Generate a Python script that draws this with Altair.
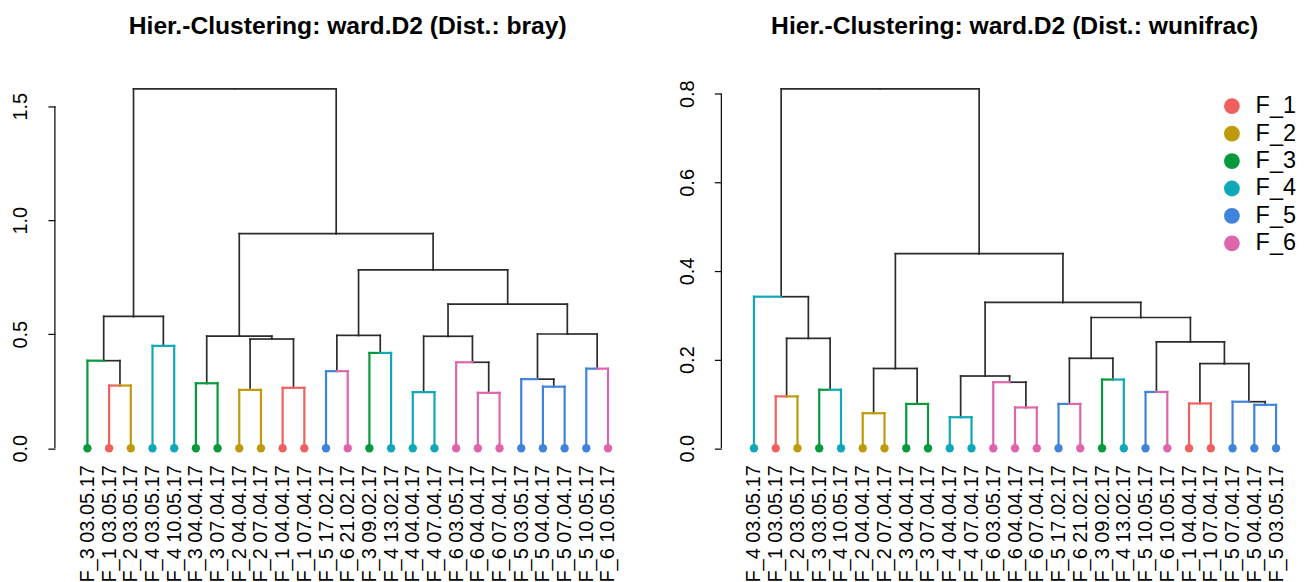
import altair as alt
import pandas as pd

FONT = "Liberation Sans"

groups = ["F_1", "F_2", "F_3", "F_4", "F_5", "F_6"]
group_colors = ["#F0605E", "#BF9A0C", "#079A3C", "#0EA8B8", "#3F84DA", "#DE64AC"]

# ---- panel 1: bray ----
bray_title = "Hier.-Clustering: ward.D2 (Dist.: bray)"
bray_labels = [
    "F_3 03.05.17", "F_1 03.05.17", "F_2 03.05.17", "F_4 03.05.17", "F_4 10.05.17",
    "F_3 04.04.17", "F_3 07.04.17", "F_2 04.04.17", "F_2 07.04.17", "F_1 04.04.17",
    "F_1 07.04.17", "F_5 17.02.17", "F_6 21.02.17", "F_3 09.02.17", "F_4 13.02.17",
    "F_4 04.04.17", "F_4 07.04.17", "F_6 03.05.17", "F_6 04.04.17", "F_6 07.04.17",
    "F_5 03.05.17", "F_5 04.04.17", "F_5 07.04.17", "F_5 10.05.17", "F_6 10.05.17",
]
# merges: negative = leaf (display position), positive = earlier merge step
bray_merge_a = [-2, -1, -4, 2, -6, -8, -10, 6, 5, -12, -14, 10, -16, -19, -18, 13, -22, -21, -24, 18, 16, 12, 9, 4]
bray_merge_b = [-3, 1, -5, 3, -7, -9, -11, 7, 8, -13, -15, 11, -17, -20, 14, 15, -23, 17, -25, 19, 20, 21, 22, 23]
bray_heights = [0.275, 0.384, 0.449, 0.578, 0.285, 0.256, 0.265, 0.479, 0.492, 0.338, 0.418, 0.495,
                0.246, 0.243, 0.377, 0.491, 0.270, 0.303, 0.349, 0.501, 0.632, 0.782, 0.941, 1.576]
bray_ticks = [0.0, 0.5, 1.0, 1.5]

# ---- panel 2: wunifrac ----
wuni_title = "Hier.-Clustering: ward.D2 (Dist.: wunifrac)"
wuni_labels = [
    "F_4 03.05.17", "F_1 03.05.17", "F_2 03.05.17", "F_3 03.05.17", "F_4 10.05.17",
    "F_2 04.04.17", "F_2 07.04.17", "F_3 04.04.17", "F_3 07.04.17", "F_4 04.04.17",
    "F_4 07.04.17", "F_6 03.05.17", "F_6 04.04.17", "F_6 07.04.17", "F_5 17.02.17",
    "F_6 21.02.17", "F_3 09.02.17", "F_4 13.02.17", "F_5 10.05.17", "F_6 10.05.17",
    "F_1 04.04.17", "F_1 07.04.17", "F_5 07.04.17", "F_5 04.04.17", "F_5 03.05.17",
]
wuni_merge_a = [-2, -4, 1, -1, -6, -8, 5, -10, -13, -12, 8, -15, -17, 12, -19, -21, -24, -23, 16, 15, 14, 11, 7, 4]
wuni_merge_b = [-3, -5, 2, 3, -7, -9, 6, -11, -14, 9, 10, -16, -18, 13, -20, -22, -25, 17, 18, 19, 20, 21, 22, 23]
wuni_heights = [0.117, 0.132, 0.248, 0.342, 0.079, 0.100, 0.180, 0.070, 0.092, 0.149, 0.163, 0.100,
                0.155, 0.203, 0.127, 0.101, 0.098, 0.105, 0.191, 0.240, 0.295, 0.329, 0.439, 0.811]
wuni_ticks = [0.0, 0.2, 0.4, 0.6, 0.8]


def build(labels, ma, mb, heights):
    nodes = {}
    segs = []
    def coord(c):
        if c < 0:
            return float(-c), 0.0, labels[-c - 1].split(" ")[0]
        return nodes[c][0], nodes[c][1], None
    for k, (a, b) in enumerate(zip(ma, mb), start=1):
        h = heights[k - 1]
        ax, ah, ag = coord(a)
        bx, bh, bg = coord(b)
        nx = (ax + bx) / 2.0
        for cx, ch, cg in ((ax, ah, ag), (bx, bh, bg)):
            segs.append({"x": cx, "x2": cx, "y": ch, "y2": h, "group": cg})
            segs.append({"x": cx, "x2": nx, "y": h, "y2": h, "group": cg})
        nodes[k] = (nx, h)
    seg = pd.DataFrame(segs)
    leaves = pd.DataFrame({
        "x": [float(i + 1) for i in range(len(labels))],
        "y": [0.0] * len(labels),
        "group": [l.split(" ")[0] for l in labels],
        "label": labels,
    })
    return seg, leaves


color_scale = alt.Scale(domain=groups, range=group_colors)


def panel(title, labels, ma, mb, heights, ticks, xmax, width, show_legend, title_dx):
    seg, leaves = build(labels, ma, mb, heights)
    n = len(labels)
    H = max(heights)
    label_arr = "[" + ",".join("'" + l + "'" for l in labels) + "]"
    xaxis = alt.Axis(values=list(range(1, n + 1)), labelExpr=label_arr + "[datum.value - 1]",
                     labelAngle=270, labelAlign="right", labelBaseline="middle",
                     labelFont=FONT, labelFontSize=20, labelColor="black", labelPadding=2,
                     ticks=False, domain=False, grid=False, labelOverlap=False, labelFlush=False,
                     labelLimit=300, title=None)
    yaxis = alt.Axis(values=ticks, format=".1f", labelAngle=270, labelAlign="center",
                     labelBaseline="bottom", labelFont=FONT, labelFontSize=20, labelColor="black",
                     labelPadding=17, tickSize=7, tickColor="black", tickWidth=1.2,
                     domain=False, grid=False, title=None, labelFlush=False, labelOverlap=False)
    xs = alt.Scale(domain=[-0.5, xmax], nice=False, zero=False)
    ys = alt.Scale(domain=[-0.04 * H, 1.04 * H], nice=False, zero=False)
    X = alt.X("x:Q", scale=xs, axis=xaxis)
    Y = alt.Y("y:Q", scale=ys, axis=yaxis)

    colored = seg[seg["group"].notna()]
    black = seg[seg["group"].isna()].drop(columns=["group"])

    if show_legend:
        legend = alt.Legend(title=None, orient="none", legendX=496, legendY=16,
                            symbolType="circle", symbolSize=250, symbolStrokeWidth=0,
                            symbolOpacity=1, labelFont=FONT, labelFontSize=23.5,
                            labelColor="black", rowPadding=2.5, labelOffset=12, padding=4)
    else:
        legend = None
    C = alt.Color("group:N", scale=color_scale, legend=legend)

    black_l = alt.Chart(black).mark_rule(color="#2b2b2b", strokeWidth=1.7, strokeCap="square").encode(
        x=X, x2="x2:Q", y=Y, y2="y2:Q")
    col_l = alt.Chart(colored).mark_rule(strokeWidth=2.2, strokeCap="square").encode(
        x=X, x2="x2:Q", y=Y, y2="y2:Q", color=C)
    pts = alt.Chart(leaves).mark_circle(size=70, opacity=1).encode(x=X, y=Y, color=C)
    axis_line = alt.Chart(pd.DataFrame({"lo": [ticks[0]], "hi": [ticks[-1]]})).mark_rule(
        color="black", strokeWidth=1.2).encode(
        x=alt.value(0), y=alt.Y("lo:Q", scale=ys, axis=yaxis), y2="hi:Q")

    return alt.layer(black_l, col_l, pts, axis_line).properties(
        width=width, height=389,
        title=alt.TitleParams(title, font=FONT, fontSize=24.7, fontWeight="bold", color="black",
                              anchor="middle", frame="group", offset=36, dx=title_dx),
    )


left = panel(bray_title, bray_labels, bray_merge_a, bray_merge_b, bray_heights, bray_ticks,
             26.5, 587, False, 0)
right = panel(wuni_title, wuni_labels, wuni_merge_a, wuni_merge_b, wuni_heights, wuni_ticks,
              26.1, 580, True, 4)

chart = alt.hconcat(left, right, spacing=36).resolve_scale(color="independent").properties(
    padding={"left": 3, "top": 5, "right": 0, "bottom": 0}
).configure_view(stroke=None)

chart.save("out.html", embed_options={"renderer": "svg", "actions": False})
